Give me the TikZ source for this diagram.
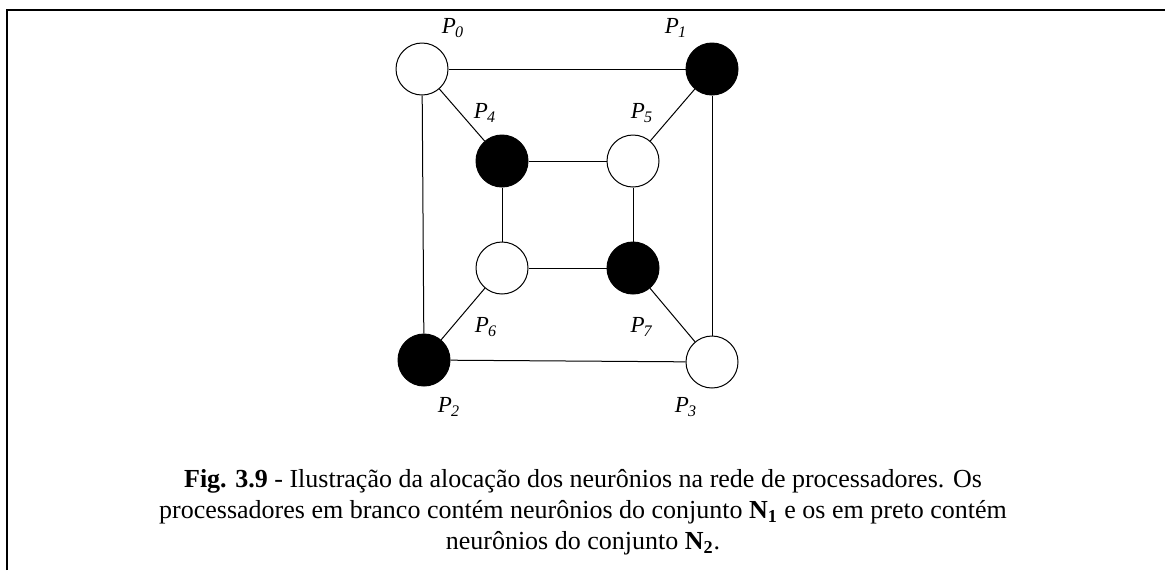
\documentclass[tikz,border=0pt]{standalone}
\usepackage{fontspec}
\setmainfont{Liberation Serif}
\usepackage{tikz}
\usetikzlibrary{positioning}

\newcommand{\proc}[1]{\textit{P}\textsubscript{\kern-.5pt\textit{#1}}}

\begin{document}
\begin{tikzpicture}[
  x=.5pt,
  y=-.5pt,
  proc/.style={
    circle,
    draw=black,
    line width=.5pt,
    minimum size=26pt,
    inner sep=0pt
  },
  white/.style={fill=white},
  black/.style={fill=black},
  tag/.style={
    font=\fontsize{11.5}{13}\selectfont,
    inner sep=0pt
  },
  edge/.style={
    line width=.5pt
  }
]
\useasboundingbox (0,0) rectangle (1165,570);

% Frame
\draw[line width=1.4pt] (7,570) -- (7,10) -- (1165,10);

% Processors
\node[proc,white] (p0) at (422,69) {};
\node[proc,black] (p1) at (712,69) {};
\node[proc,white] (p5) at (633,161) {};
\node[proc,black] (p4) at (502,161) {};
\node[proc,white] (p6) at (502,268) {};
\node[proc,black] (p7) at (633,268) {};
\node[proc,black] (p2) at (424,360) {};
\node[proc,white] (p3) at (712,362) {};

% Labels
\node[tag] (l0) at (453,28) {\proc{0}};
\node[tag] (l1) at (676,28) {\proc{1}};
\node[tag] (l4) at (485,113) {\proc{4}};
\node[tag] (l5) at (642,113) {\proc{5}};
\node[tag] (l6) at (486,327) {\proc{6}};
\node[tag] (l7) at (642,327) {\proc{7}};
\node[tag] (l2) at (449,407) {\proc{2}};
\node[tag] (l3) at (686,407) {\proc{3}};

% Outer square
\draw[edge] (p0) -- (p1);
\draw[edge] (p0) -- (p2);
\draw[edge] (p1) -- (p3);
\draw[edge] (p2) -- (p3);

% Inner square
\draw[edge] (p4) -- (p5);
\draw[edge] (p4) -- (p6);
\draw[edge] (p5) -- (p7);
\draw[edge] (p6) -- (p7);

% Diagonals
\draw[edge] (p0) -- (p4);
\draw[edge] (p1) -- (p5);
\draw[edge] (p2) -- (p6);
\draw[edge] (p3) -- (p7);

% Caption
\node[align=center,inner sep=0pt,font=\fontsize{13}{15.5}\selectfont] (cap) at (583,512)
  {\textbf{Fig. 3.9} - Ilustração da alocação dos neurônios na rede de processadores. Os\\
   processadores em branco contém neurônios do conjunto \textbf{N\textsubscript{1}} e os em preto contém\\
   neurônios do conjunto \textbf{N\textsubscript{2}}.};

\end{tikzpicture}
\end{document}
